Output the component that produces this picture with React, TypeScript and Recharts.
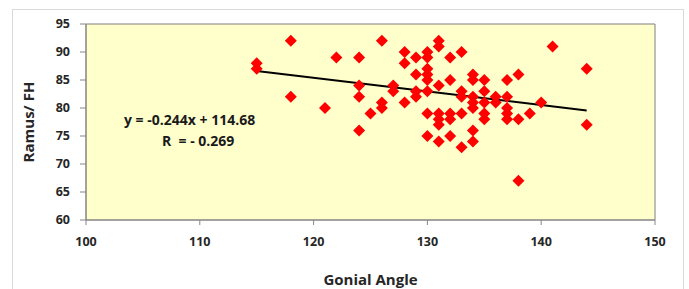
import { ScatterChart, Scatter, XAxis, YAxis, ReferenceArea, ReferenceLine } from "recharts";

// Gonial angle (x) and Ramus/FH (y), one entry per patient
const gonialAngle = [
  115, 115, 118, 118, 121, 122, 124, 124, 124, 124, 125, 126, 126, 126, 127, 127,
  128, 128, 128, 129, 129, 129, 129, 130, 130, 130, 130, 130, 130, 130, 130,
  131, 131, 131, 131, 131, 131, 131, 132, 132, 132, 132, 132,
  133, 133, 133, 133, 133, 134, 134, 134, 134, 134, 134, 134,
  135, 135, 135, 135, 135, 136, 136, 137, 137, 137, 137, 137,
  138, 138, 138, 139, 140, 141, 144, 144,
];
const ramusFH = [
  88, 87, 92, 82, 80, 89, 89, 84, 82, 76, 79, 92, 81, 80, 84, 83,
  90, 88, 81, 89, 86, 83, 82, 90, 89, 87, 86, 85, 83, 79, 75,
  92, 91, 84, 79, 78, 77, 74, 89, 85, 79, 78, 75,
  90, 83, 82, 79, 73, 86, 85, 82, 81, 80, 76, 74,
  85, 83, 81, 79, 78, 82, 81, 85, 82, 80, 79, 78,
  86, 78, 67, 79, 81, 91, 87, 77,
];

const xTicks = [100, 110, 120, 130, 140, 150];
const yTicks = [60, 65, 70, 75, 80, 85, 90, 95];

// linear fit shown on the chart
const slope = -0.244;
const intercept = 114.68;
const fitRange = [115, 144];

const points = gonialAngle.map((x, i) => ({ x, y: ramusFH[i] }));
const fitLine = fitRange.map((x) => ({ x, y: slope * x + intercept }));

const Diamond = (props: any) => {
  const { cx, cy } = props;
  const r = 6;
  return <path d={`M${cx},${cy - r}L${cx + r},${cy}L${cx},${cy + r}L${cx - r},${cy}Z`} fill="#ff0000" />;
};

const textColor = "#262626";
const tickStyle = { fontSize: 12.5, fontWeight: 700, fill: textColor };

export default function App() {
  return (
    <div style={{ position: "absolute", left: 0, top: 0, width: 689, height: 289, background: "#fff", fontFamily: "'Open Sans', sans-serif", overflow: "hidden" }}>
      <div style={{ position: "absolute", left: 12, top: 9, width: 670, height: 300, border: "1px solid #d9d9d9" }} />
      <ScatterChart width={689} height={289} margin={{ top: 24, right: 34, bottom: 0, left: 0 }}>
        <XAxis
          type="number"
          dataKey="x"
          domain={[100, 150]}
          ticks={xTicks}
          tick={tickStyle}
          tickSize={5}
          tickMargin={12}
          stroke="#868686"
          height={69}
          label={{ value: "Gonial Angle", position: "insideBottom", offset: 4, fontSize: 15, fontWeight: 700, fill: textColor }}
        />
        <YAxis
          type="number"
          dataKey="y"
          domain={[60, 95]}
          ticks={yTicks}
          tick={tickStyle}
          tickSize={6}
          tickMargin={10}
          stroke="#868686"
          width={86}
          label={{ value: "Ramus/ FH", angle: -90, position: "insideLeft", offset: 29, fontSize: 15, fontWeight: 700, fill: textColor, style: { textAnchor: "middle" } }}
        />
        <ReferenceArea x1={100} x2={150} y1={60} y2={95} fill="#ffffcc" fillOpacity={1} stroke="#7f7f7f" />
        <Scatter data={points} shape={<Diamond />} isAnimationActive={false} />
        <ReferenceLine segment={fitLine} stroke="#000" strokeWidth={2} />
      </ScatterChart>
      <div style={{ position: "absolute", left: 124, top: 110, fontSize: 14, fontWeight: 700, color: "#1a1a1a", whiteSpace: "pre" }}>
        y = -0.244x + 114.68
      </div>
      <div style={{ position: "absolute", left: 162, top: 131, fontSize: 14, fontWeight: 700, color: "#1a1a1a", whiteSpace: "pre" }}>
        {"R  = - 0.269"}
      </div>
    </div>
  );
}
